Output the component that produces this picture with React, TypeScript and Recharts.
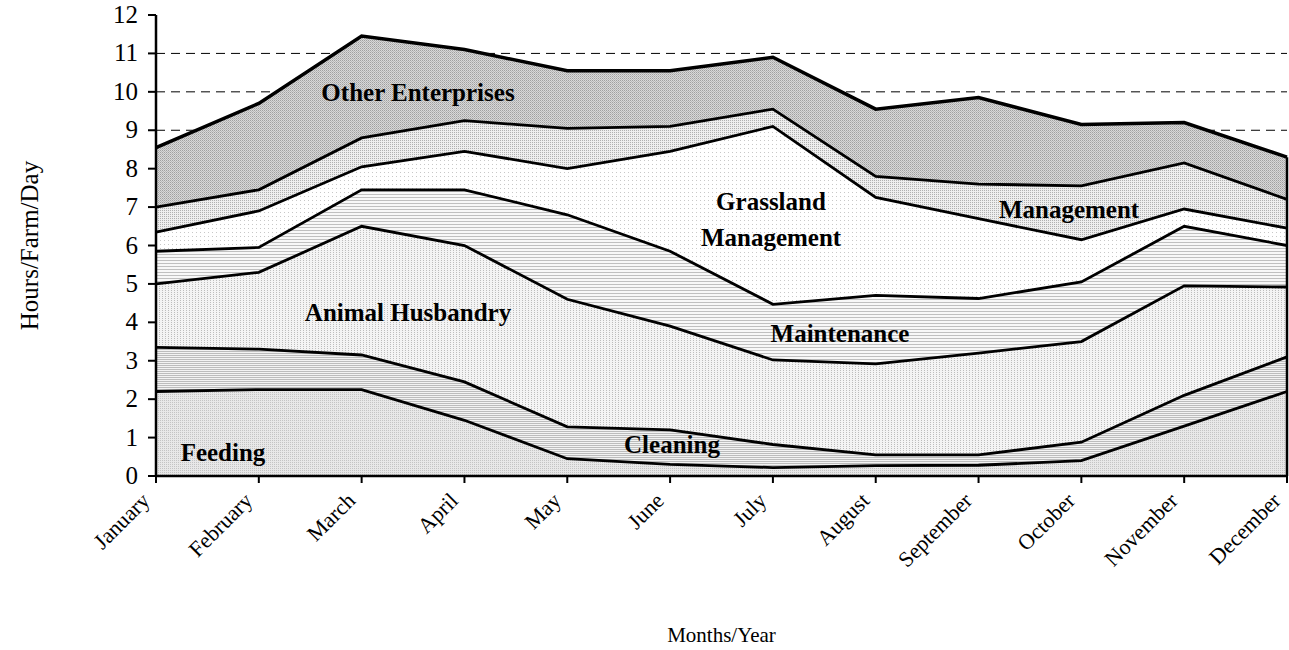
import { Area, AreaChart, CartesianGrid, ReferenceLine, XAxis, YAxis } from "recharts";

const months = [
  "January", "February", "March", "April", "May", "June",
  "July", "August", "September", "October", "November", "December",
];

// hours per farm per day, stacked from the bottom
const feeding = [2.2, 2.25, 2.25, 1.45, 0.45, 0.3, 0.22, 0.27, 0.28, 0.4, 1.3, 2.2];
const cleaning = [1.15, 1.05, 0.9, 1.0, 0.83, 0.9, 0.6, 0.28, 0.27, 0.48, 0.8, 0.9];
const animalHusbandry = [1.65, 2.0, 3.35, 3.55, 3.32, 2.7, 2.2, 2.37, 2.65, 2.62, 2.85, 1.82];
const maintenance = [0.85, 0.65, 0.95, 1.45, 2.2, 1.95, 1.45, 1.78, 1.42, 1.55, 1.55, 1.08];
const grassland = [0.5, 0.95, 0.6, 1.0, 1.2, 2.6, 4.63, 2.55, 2.08, 1.1, 0.45, 0.45];
const management = [0.65, 0.55, 0.75, 0.8, 1.05, 0.65, 0.45, 0.55, 0.9, 1.4, 1.2, 0.75];
const otherEnterprises = [1.55, 2.25, 2.65, 1.85, 1.5, 1.45, 1.35, 1.75, 2.25, 1.6, 1.05, 1.1];

const yTicks = [0, 1, 2, 3, 4, 5, 6, 7, 8, 9, 10, 11, 12];

const data = months.map((m, i) => ({
  month: m,
  feeding: feeding[i],
  cleaning: cleaning[i],
  animal: animalHusbandry[i],
  maintenance: maintenance[i],
  grassland: grassland[i],
  management: management[i],
  other: otherEnterprises[i],
}));

const lastTotal =
  feeding[11] + cleaning[11] + animalHusbandry[11] + maintenance[11] +
  grassland[11] + management[11] + otherEnterprises[11];

const font = "'Liberation Serif', 'Times New Roman', serif";

const MonthTick = (props: any) => {
  const { x, y, payload } = props;
  const ax = x - 5;
  const ay = y + 17;
  return (
    <text
      x={ax}
      y={ay}
      transform={`rotate(-45 ${ax} ${ay})`}
      textAnchor="end"
      fontSize={22}
      fontFamily={font}
      fill="#000"
    >
      {payload.value}
    </text>
  );
};

const HourTick = (props: any) => {
  const { x, y, payload } = props;
  return (
    <text x={x} y={y} dy={8} textAnchor="end" fontSize={25} fontFamily={font} fill="#000">
      {payload.value}
    </text>
  );
};

const series = [
  { key: "feeding", fill: "url(#pFeed)" },
  { key: "cleaning", fill: "url(#pClean)" },
  { key: "animal", fill: "url(#pAnimal)" },
  { key: "maintenance", fill: "url(#pMaint)" },
  { key: "grassland", fill: "url(#pGrass)" },
  { key: "management", fill: "url(#pMgmt)" },
  { key: "other", fill: "url(#pOther)" },
];

const bold = { fontFamily: font, fontWeight: 700, fontSize: 25, fill: "#000" } as const;

export default function App() {
  return (
    <div style={{ position: "absolute", left: 0, top: 0, width: 1289, height: 650, background: "#fff" }}>
      <AreaChart
        width={1289}
        height={650}
        data={data}
        margin={{ top: 15, right: 2, bottom: 24, left: 96 }}
      >
        <defs>
          <pattern id="pFeed" width="2" height="2" patternUnits="userSpaceOnUse">
            <rect width="2" height="2" fill="#e8e8e8" />
            <rect width="1" height="1" fill="#c4c4c4" />
          </pattern>
          <pattern id="pClean" width="2" height="2" patternUnits="userSpaceOnUse">
            <rect width="2" height="2" fill="#f2f2f2" />
            <rect y="1" width="2" height="1" fill="#bcbcbc" />
          </pattern>
          <pattern id="pAnimal" width="3" height="2" patternUnits="userSpaceOnUse">
            <rect width="3" height="2" fill="#f4f4f4" />
            <rect width="1" height="1" fill="#bdbdbd" />
          </pattern>
          <pattern id="pMaint" width="2" height="3" patternUnits="userSpaceOnUse">
            <rect width="2" height="3" fill="#f8f8f8" />
            <rect y="2" width="2" height="1" fill="#c0c0c0" />
          </pattern>
          <pattern id="pGrass" width="4" height="4" patternUnits="userSpaceOnUse">
            <rect width="4" height="4" fill="#ffffff" />
            <rect width="1" height="1" fill="#c8c8c8" />
          </pattern>
          <pattern id="pMgmt" width="2" height="2" patternUnits="userSpaceOnUse">
            <rect width="2" height="2" fill="#eeeeee" />
            <rect width="1" height="1" fill="#b0b0b0" />
          </pattern>
          <pattern id="pOther" width="2" height="2" patternUnits="userSpaceOnUse">
            <rect width="2" height="2" fill="#d8d8d8" />
            <rect width="1" height="1" fill="#a0a0a0" />
            <rect x="1" y="1" width="1" height="1" fill="#b8b8b8" />
          </pattern>
        </defs>
        <CartesianGrid
          vertical={false}
          horizontalValues={[1, 2, 3, 4, 5, 6, 7, 8, 9, 10, 11]}
          stroke="#000"
          strokeWidth={1}
          strokeDasharray="9 6"
        />
        <XAxis
          dataKey="month"
          height={150}
          interval={0}
          axisLine={{ stroke: "#000", strokeWidth: 2.5 }}
          tickLine={{ stroke: "#000", strokeWidth: 2 }}
          tickSize={7}
          tick={<MonthTick />}
          label={{
            value: "Months/Year",
            position: "insideBottom",
            offset: -16,
            fontSize: 21,
            fontFamily: font,
            fill: "#000",
          }}
        />
        <YAxis
          width={60}
          domain={[0, 12]}
          ticks={yTicks}
          interval={0}
          allowDataOverflow
          axisLine={{ stroke: "#000", strokeWidth: 2.5 }}
          tickLine={{ stroke: "#000", strokeWidth: 2 }}
          tickSize={8}
          tickMargin={10}
          tick={<HourTick />}
          label={{
            value: "Hours/Farm/Day",
            angle: -90,
            position: "insideLeft",
            dx: -72,
            fontSize: 25,
            fontFamily: font,
            fill: "#000",
            style: { textAnchor: "middle" },
          }}
        />
        {series.map((s) => (
          <Area
            key={s.key}
            type="linear"
            dataKey={s.key}
            stackId="fill"
            stroke="none"
            fill={s.fill}
            fillOpacity={1}
            dot={false}
            activeDot={false}
            isAnimationActive={false}
          />
        ))}
        {series.map((s, idx) => (
          <Area
            key={s.key + "-line"}
            type="linear"
            dataKey={s.key}
            stackId="line"
            stroke="#000"
            strokeWidth={idx === series.length - 1 ? 3.5 : 2.8}
            strokeLinejoin="miter"
            fill="none"
            dot={false}
            activeDot={false}
            isAnimationActive={false}
          />
        ))}
        <ReferenceLine
          segment={[
            { x: "December", y: 0 },
            { x: "December", y: lastTotal },
          ]}
          stroke="#000"
          strokeWidth={2.5}
        />
      </AreaChart>
      <svg
        width={1289}
        height={650}
        style={{ position: "absolute", left: 0, top: 0, pointerEvents: "none" }}
      >
        <text x={418} y={101} textAnchor="middle" {...bold}>Other Enterprises</text>
        <text x={771} y={210} textAnchor="middle" {...bold}>Grassland</text>
        <text x={771} y={246} textAnchor="middle" {...bold}>Management</text>
        <text x={1069} y={218} textAnchor="middle" {...bold}>Management</text>
        <text x={408} y={321} textAnchor="middle" {...bold}>Animal Husbandry</text>
        <text x={840} y={342} textAnchor="middle" {...bold}>Maintenance</text>
        <text x={672} y={453} textAnchor="middle" {...bold}>Cleaning</text>
        <text x={223} y={461} textAnchor="middle" {...bold}>Feeding</text>
      </svg>
    </div>
  );
}
